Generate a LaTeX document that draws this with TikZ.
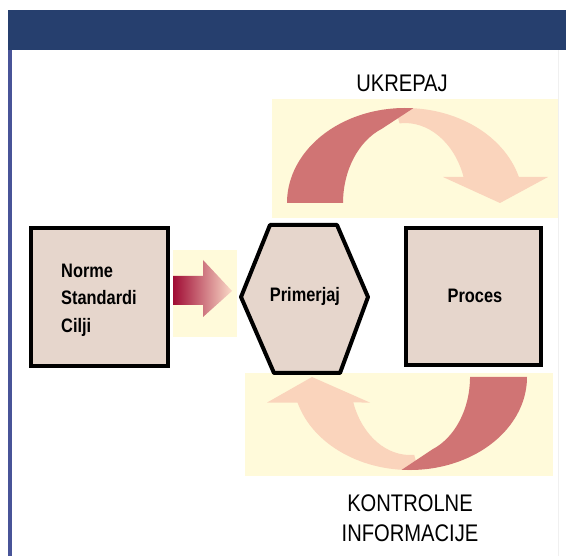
\documentclass[tikz,border=0pt]{standalone}
\usepackage{fontspec}
\setmainfont{Liberation Sans}[FakeStretch=0.84]
\begin{document}
\definecolor{headblue}{RGB}{38,63,110}
\definecolor{frameblue}{RGB}{72,84,152}
\definecolor{boxfill}{RGB}{230,214,204}
\definecolor{cream}{RGB}{255,250,218}
\definecolor{arcdark}{RGB}{208,116,116}
\definecolor{arclight}{RGB}{250,212,188}
\definecolor{crimson}{RGB}{160,12,52}
\definecolor{peach}{RGB}{250,218,200}
\begin{tikzpicture}[x=1pt,y=-1pt,
  box/.style={draw=black,line width=4pt,fill=boxfill,inner sep=0pt},
  boldtxt/.style={font=\fontsize{19.5}{27.5}\selectfont\bfseries,align=left},
  label/.style={font=\fontsize{24}{30}\selectfont,align=center},
  band/.style={fill=cream},
]
\useasboundingbox (0,0) rectangle (566,556);
\fill[white] (0,0) rectangle (566,556);

% frame and title bar
\draw[gray!12,line width=1pt] (558,50) -- (558,556);
\draw[frameblue,line width=4pt] (10,50) -- (10,556);
\fill[headblue] (8,10) rectangle (566,50);

% cream panels behind the arrows
\fill[band] (272,99) rectangle (558,218);
\fill[band] (245,373) rectangle (553,476);
\fill[band] (173,250) rectangle (237,337);

% upper curved arrow (UKREPAJ)
\fill[arclight] (395.1,108.4)
  arc[start angle=95,end angle=16,x radius=118pt,y radius=95pt]
  -- (548,177) -- (500,203) -- (443,177) -- (463.6,177)
  arc[start angle=19,end angle=95,x radius=62pt,y radius=80pt] -- cycle;
\fill[arcdark] (287,203)
  arc[start angle=180,end angle=86,x radius=118pt,y radius=95pt]
  -- (381.8,128.8)
  arc[start angle=112,end angle=180,x radius=62pt,y radius=80pt] -- cycle;

% lower curved arrow (KONTROLNE INFORMACIJE)
\fill[arclight] (418.2,469.8)
  arc[start angle=-86,end angle=-164,x radius=117pt,y radius=93pt]
  -- (267,402.6) -- (312,377) -- (370,402.6) -- (353.3,402.4)
  arc[start angle=-161,end angle=-86,x radius=60pt,y radius=78pt] -- cycle;
\fill[arcdark] (527,377)
  arc[start angle=0,end angle=-94,x radius=117pt,y radius=93pt]
  -- (432.5,449.3)
  arc[start angle=-68,end angle=0,x radius=60pt,y radius=78pt] -- cycle;

% straight arrow into the comparison step
\shade[left color=crimson,right color=peach]
  (173,276) -- (203,276) -- (203,260) -- (232,291) -- (203,317)
  -- (203,305) -- (173,305) -- cycle;

% boxes
\node[box,minimum width=137pt,minimum height=138pt] (norme) at (99.5,297) {};
\node[boldtxt] (normetxt) at (99,300) {Norme\\Standardi\\Cilji};
\node[box,minimum width=135pt,minimum height=137pt] (proces) at (473.5,296.5) {};
\node[font=\fontsize{19.5}{24}\selectfont\bfseries] (procestxt) at (475,296) {Proces};

% hexagon
\draw[line width=4pt,fill=boxfill,line join=round]
  (241,297) -- (270,225) -- (337,225) -- (368,297) -- (340,373) -- (274,373) -- cycle;
\node[font=\fontsize{19.5}{24}\selectfont\bfseries] (primerjaj) at (305,296) {Primerjaj};

% labels
\node[label] (ukrepaj) at (402,83) {UKREPAJ};
\node[label] (kontrolne) at (410,518) {KONTROLNE\\INFORMACIJE};
\end{tikzpicture}
\end{document}
